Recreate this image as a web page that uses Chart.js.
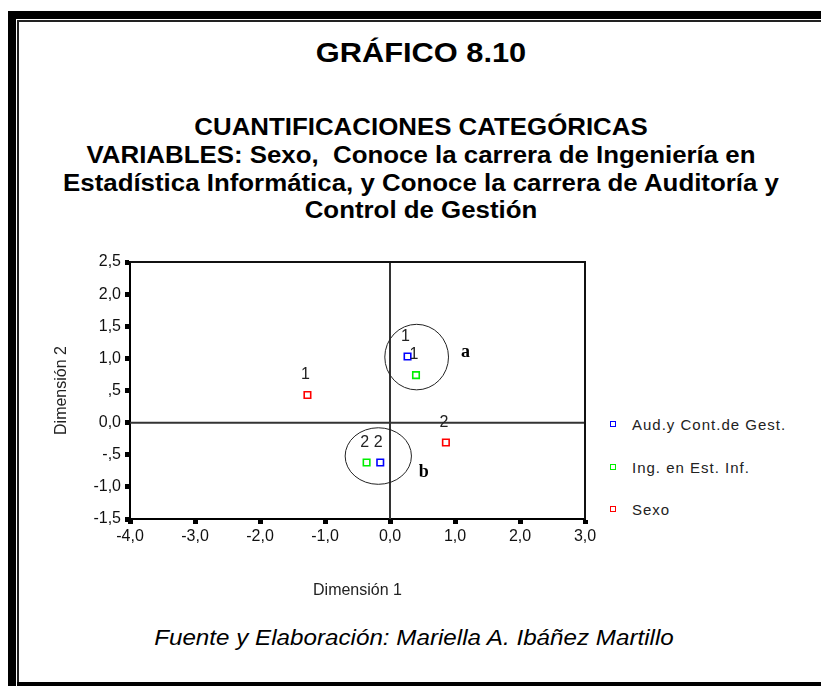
<!DOCTYPE html>
<html>
<head>
<meta charset="utf-8">
<script src="https://cdn.jsdelivr.net/npm/chart.js@4"></script>
<style>
  html, body { margin:0; padding:0; background:#fff; }
  body { width:821px; height:686px; position:relative; overflow:hidden; font-family:"Liberation Sans", Arial, sans-serif; color:#000; }
  .bar { position:absolute; background:#000; }
  .thin { position:absolute; background:#222; }
  .head { position:absolute; left:21px; width:800px; text-align:center; font-weight:bold; white-space:pre; transform:scaleX(1.1); transform-origin:center; }
  #title { top:39px; font-size:28px; line-height:28px; }
  #subtitle { top:114px; font-size:23.5px; line-height:27.8px; }
  #footer { position:absolute; left:14px; width:800px; text-align:center; top:626px; font-size:22px; line-height:24px; font-style:italic; transform:scaleX(1.1); transform-origin:center; white-space:pre; }
  #legend { position:absolute; left:609px; top:0; }
  .item { position:absolute; left:0; white-space:nowrap; font-size:15px; line-height:18px; letter-spacing:1px; color:#222; }
  .item i { position:absolute; left:1px; width:4px; height:4px; border:1.6px solid; }
  .item span { position:absolute; left:23px; top:0; }
  #chart { position:absolute; left:0; top:0; }
</style>
</head>
<body>
<div class="bar" style="left:8px; top:11px; width:8px; height:675px;"></div>
<div class="bar" style="left:8px; top:11px; width:813px; height:8px;"></div>
<div class="thin" style="left:17px; top:20px; width:2px; height:666px;"></div>
<div class="thin" style="left:17px; top:20px; width:804px; height:2px;"></div>
<div class="bar" style="left:17px; top:682px; width:804px; height:4px;"></div>

<div id="title" class="head">GRÁFICO 8.10</div>
<div id="subtitle" class="head">CUANTIFICACIONES CATEGÓRICAS
VARIABLES: Sexo,  Conoce la carrera de Ingeniería en
Estadística Informática, y Conoce la carrera de Auditoría y
Control de Gestión</div>

<div id="legend"></div>

<div id="footer">Fuente y Elaboración: Mariella A. Ibáñez Martillo</div>

<canvas id="chart" width="821" height="686"></canvas>

<script>
// category quantifications (Dimensión 1, Dimensión 2), categories 1 and 2
const categories = ['1', '2'];
const audX = [0.27, -0.15];
const audY = [1.03, -0.62];
const ingX = [0.40, -0.36];
const ingY = [0.74, -0.62];
const sexoX = [-1.27, 0.86];
const sexoY = [0.43, -0.31];

const seriesNames = ['Aud.y Cont.de Gest.', 'Ing. en Est. Inf.', 'Sexo'];
const seriesColors = ['#0000ff', '#00ee00', '#ff0000'];

const xTickValues = [-4, -3, -2, -1, 0, 1, 2, 3];
const xTickLabels = ['-4,0', '-3,0', '-2,0', '-1,0', '0,0', '1,0', '2,0', '3,0'];
const yTickValues = [-1.5, -1, -0.5, 0, 0.5, 1, 1.5, 2, 2.5];
const yTickLabels = ['-1,5', '-1,0', '-,5', '0,0', ',5', '1,0', '1,5', '2,0', '2,5'];

// hand-drawn groupings: centre x, centre y, radius x, radius y (data units)
const groupNames = ['a', 'b'];
const groupCx = [0.41, -0.18];
const groupCy = [1.02, -0.52];
const groupRx = [0.49, 0.51];
const groupRy = [0.51, 0.44];
const groupLabelX = [1.16, 0.52];
const groupLabelY = [1.09, -0.77];

const seriesX = [audX, ingX, sexoX];
const seriesY = [audY, ingY, sexoY];

// legend
const legendTops = [416, 459, 501];
document.getElementById('legend').innerHTML = seriesNames.map((n, i) =>
  `<div class="item" style="top:${legendTops[i]}px"><i style="border-color:${seriesColors[i]};top:5px"></i><span>${n}</span></div>`
).join('');

Chart.defaults.font.family = '"Liberation Sans", Arial, sans-serif';
Chart.defaults.color = '#111';

const decor = {
  id: 'decor',
  beforeDatasetsDraw(chart) {
    const {ctx, chartArea: a, scales: {x, y}} = chart;
    ctx.save();
    // reference lines through origin
    ctx.strokeStyle = '#333';
    ctx.lineWidth = 2;
    ctx.beginPath();
    ctx.moveTo(x.getPixelForValue(0), a.top);
    ctx.lineTo(x.getPixelForValue(0), a.bottom);
    ctx.moveTo(a.left, y.getPixelForValue(0));
    ctx.lineTo(a.right, y.getPixelForValue(0));
    ctx.stroke();
    // frame top / right
    ctx.strokeStyle = '#111';
    ctx.beginPath();
    ctx.moveTo(a.left, a.top);
    ctx.lineTo(a.right, a.top);
    ctx.lineTo(a.right, a.bottom);
    ctx.stroke();
    // group circles
    ctx.lineWidth = 1;
    ctx.strokeStyle = '#222';
    groupNames.forEach((g, i) => {
      const cx = x.getPixelForValue(groupCx[i]);
      const cy = y.getPixelForValue(groupCy[i]);
      const rx = Math.abs(x.getPixelForValue(groupCx[i] + groupRx[i]) - cx);
      const ry = Math.abs(y.getPixelForValue(groupCy[i] + groupRy[i]) - cy);
      ctx.beginPath();
      ctx.ellipse(cx, cy, rx, ry, 0, 0, Math.PI * 2);
      ctx.stroke();
      ctx.font = 'bold 18px "Liberation Serif", serif';
      ctx.fillStyle = '#000';
      ctx.textAlign = 'center';
      ctx.textBaseline = 'middle';
      ctx.fillText(g, x.getPixelForValue(groupLabelX[i]), y.getPixelForValue(groupLabelY[i]));
    });
    ctx.restore();
  },
  afterDatasetsDraw(chart) {
    const {ctx, scales: {x, y}} = chart;
    ctx.save();
    ctx.font = '16px "Liberation Sans", Arial, sans-serif';
    ctx.fillStyle = '#222';
    ctx.textAlign = 'center';
    ctx.textBaseline = 'middle';
    seriesX.forEach((xs, s) => {
      xs.forEach((v, i) => {
        ctx.fillText(categories[i], x.getPixelForValue(v) - 2, y.getPixelForValue(seriesY[s][i]) - 20);
      });
    });
    ctx.restore();
  }
};

new Chart(document.getElementById('chart'), {
  type: 'scatter',
  data: {
    datasets: seriesNames.map((n, s) => ({
      label: n,
      data: seriesX[s].map((v, i) => ({x: v, y: seriesY[s][i]})),
      pointStyle: 'rect',
      pointRadius: 4.6,
      pointHoverRadius: 4.6,
      borderWidth: 1.6,
      borderColor: seriesColors[s],
      backgroundColor: 'transparent',
    })),
  },
  options: {
    responsive: false,
    animation: false,
    layout: { padding: { left: 40, right: 236, top: 262, bottom: 77 } },
    plugins: { legend: { display: false }, tooltip: { enabled: false } },
    scales: {
      x: {
        type: 'linear', min: -4, max: 3,
        afterBuildTicks: s => { s.ticks = xTickValues.map(v => ({value: v})); },
        afterFit: s => { s.height = 90; },
        ticks: { callback: (v, i) => xTickLabels[i], padding: 3, font: { size: 16 }, maxRotation: 0 },
        grid: { drawOnChartArea: false, tickLength: 5, tickWidth: 5, tickColor: '#000' },
        border: { display: true, color: '#000', width: 2 },
        title: { display: true, text: 'Dimensión 1', font: { size: 16 }, color: '#222', padding: { top: 0, bottom: 9 } },
      },
      y: {
        type: 'linear', min: -1.5, max: 2.5,
        afterBuildTicks: s => { s.ticks = yTickValues.map(v => ({value: v})); },
        afterFit: s => { s.width = 90; },
        ticks: { callback: (v, i) => yTickLabels[i], padding: 4, font: { size: 16 } },
        grid: { drawOnChartArea: false, tickLength: 5, tickWidth: 5, tickColor: '#000' },
        border: { display: true, color: '#000', width: 2 },
        title: { display: true, text: 'Dimensión 2', font: { size: 16 }, color: '#222', padding: { top: 12, bottom: 0 } },
      },
    },
  },
  plugins: [decor],
});
</script>
</body>
</html>
